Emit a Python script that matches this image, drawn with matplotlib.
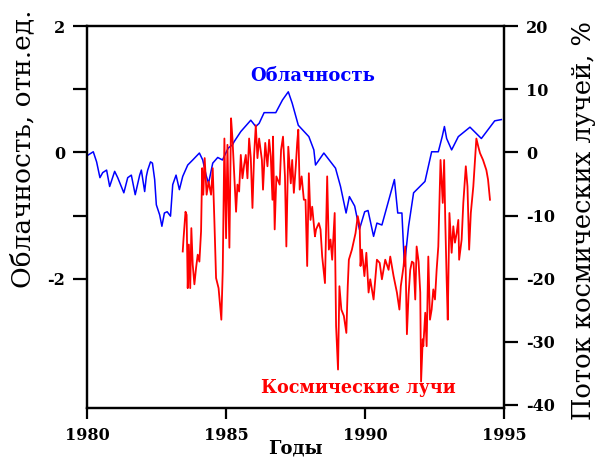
import numpy as np
import matplotlib
matplotlib.use("Agg")
from matplotlib import pyplot as plt

plt.rcParams['axes.unicode_minus'] = False
plt.rcParams['font.family'] = ['DejaVu Serif']

# облачность (годы, отн.ед.)
cloud_years = [1980.04, 1980.22, 1980.34, 1980.46, 1980.56, 1980.70, 1980.81, 1980.99,
               1981.10, 1981.32, 1981.46, 1981.59, 1981.73, 1981.89, 1981.95, 1982.07,
               1982.13, 1982.18, 1982.28, 1982.35, 1982.43, 1982.49, 1982.61, 1982.69,
               1982.78, 1982.88, 1983.00, 1983.08, 1983.20, 1983.32, 1983.44, 1983.62,
               1983.80, 1984.04, 1984.16, 1984.28, 1984.37, 1984.52, 1984.70, 1984.87,
               1985.08, 1985.23, 1985.29, 1985.53, 1985.89, 1986.07, 1986.19, 1986.37,
               1986.79, 1987.03, 1987.24, 1987.38, 1987.60, 1987.98, 1988.16, 1988.22,
               1988.52, 1988.94, 1989.12, 1989.32, 1989.44, 1989.63, 1989.80, 1989.99,
               1990.11, 1990.31, 1990.43, 1990.61, 1991.06, 1991.18, 1991.33, 1991.42,
               1991.57, 1991.75, 1992.16, 1992.40, 1992.64, 1992.78, 1992.86, 1992.94,
               1993.12, 1993.36, 1993.78, 1994.19, 1994.67, 1994.91]
cloud = [-0.04, 0.01, -0.15, -0.40, -0.32, -0.28, -0.54, -0.30,
         -0.40, -0.64, -0.40, -0.36, -0.67, -0.36, -0.28, -0.62,
         -0.38, -0.28, -0.15, -0.17, -0.43, -0.83, -0.99, -1.17,
         -0.96, -0.94, -1.01, -0.51, -0.36, -0.59, -0.38, -0.20,
         -0.12, -0.01, -0.12, -0.36, -0.49, -0.17, -0.08, -0.12,
         0.07, 0.12, 0.17, 0.33, 0.51, 0.41, 0.46, 0.63,
         0.63, 0.83, 0.96, 0.78, 0.43, 0.25, 0.04, -0.20,
         -0.01, -0.25, -0.54, -0.96, -0.70, -0.85, -1.22, -0.94,
         -0.92, -1.33, -1.12, -1.15, -0.43, -0.96, -0.96, -1.80,
         -1.17, -0.64, -0.46, 0.01, 0.01, 0.25, 0.41, 0.22,
         0.04, 0.25, 0.40, 0.22, 0.50, 0.52]

# поток космических лучей (годы, %)
cr_years = [1983.44, 1983.47, 1983.54, 1983.58, 1983.62, 1983.66, 1983.71, 1983.75,
            1983.80, 1983.86, 1983.92, 1983.98, 1984.04, 1984.10, 1984.14, 1984.18,
            1984.23, 1984.30, 1984.37, 1984.46, 1984.52, 1984.58, 1984.64, 1984.73,
            1984.78, 1984.83, 1984.88, 1984.94, 1985.00, 1985.05, 1985.12, 1985.18,
            1985.23, 1985.29, 1985.36, 1985.41, 1985.47, 1985.53, 1985.59, 1985.65,
            1985.71, 1985.77, 1985.83, 1985.89, 1985.95, 1986.01, 1986.07, 1986.13,
            1986.19, 1986.29, 1986.33, 1986.41, 1986.49, 1986.55, 1986.61, 1986.67,
            1986.69, 1986.75, 1986.81, 1986.93, 1986.98, 1987.05, 1987.12, 1987.17,
            1987.24, 1987.33, 1987.38, 1987.44, 1987.51, 1987.56, 1987.60, 1987.65,
            1987.72, 1987.80, 1987.86, 1987.92, 1987.98, 1988.04, 1988.10, 1988.20,
            1988.24, 1988.34, 1988.40, 1988.46, 1988.56, 1988.64, 1988.70, 1988.76,
            1988.82, 1988.91, 1988.96, 1989.03, 1989.08, 1989.15, 1989.24, 1989.33,
            1989.38, 1989.42, 1989.53, 1989.66, 1989.74, 1989.81, 1989.84, 1989.89,
            1989.98, 1990.05, 1990.13, 1990.19, 1990.31, 1990.43, 1990.53, 1990.61,
            1990.73, 1990.85, 1990.91, 1991.03, 1991.15, 1991.24, 1991.29, 1991.39,
            1991.45, 1991.51, 1991.57, 1991.63, 1991.69, 1991.75, 1991.81, 1991.86,
            1991.93, 1991.99, 1992.02, 1992.08, 1992.10, 1992.17, 1992.22, 1992.28,
            1992.34, 1992.40, 1992.46, 1992.52, 1992.58, 1992.64, 1992.72, 1992.80,
            1992.85, 1992.89, 1992.94, 1992.98, 1993.04, 1993.12, 1993.18, 1993.24,
            1993.30, 1993.36, 1993.39, 1993.48, 1993.54, 1993.63, 1993.69, 1993.75,
            1993.81, 1993.90, 1993.96, 1994.01, 1994.08, 1994.14, 1994.25, 1994.37,
            1994.43, 1994.50]
cr_flux = [-15.7, -13.6, -9.4, -9.9, -21.5, -14.6, -21.5, -12.0,
           -17.8, -20.9, -18.3, -16.2, -17.3, -12.5, -2.5, -6.7,
           -0.9, -6.7, -4.6, -6.7, -2.5, -10.9, -19.9, -21.5,
           -24.1, -26.5, -18.8, 2.2, -13.6, 1.2, -15.1, 5.4,
           2.2, -3.0, -9.4, -5.1, -6.2, -0.4, -4.1, -2.0,
           -0.4, -4.1, 2.2, -0.9, -8.8, -0.4, 4.3, -0.9,
           2.2, -1.2, -5.9, 1.5, -2.2, 2.0, -0.7, -7.5,
           2.5, -12.2, -3.8, -5.1, 0.4, 2.5, -3.8, -14.9,
           0.9, -4.9, -1.2, -6.4, -2.2, 1.5, 3.6, -5.9,
           -3.8, -7.5, -7.5, -18.0, -3.3, -10.7, -8.6, -13.3,
           -12.2, -11.2, -12.2, -16.5, -20.7, -3.8, -15.4, -13.8,
           -17.0, -9.6, -27.5, -34.4, -21.2, -24.9, -25.9, -28.6,
           -21.2, -17.0, -15.4, -12.8, -10.1, -11.7, -18.0, -15.4,
           -19.6, -15.9, -22.2, -20.1, -23.3, -17.0, -17.5, -20.1,
           -17.0, -18.6, -16.5, -19.6, -22.2, -24.9, -21.2, -18.0,
           -14.9, -28.8, -22.5, -18.6, -17.3, -17.5, -23.3, -14.9,
           -17.3, -22.2, -36.3, -29.6, -30.7, -25.4, -30.7, -16.5,
           -26.5, -24.9, -21.7, -23.3, -18.6, -14.9, -1.2, -8.0,
           -1.2, -10.7, -20.1, -26.5, -9.6, -15.9, -11.7, -14.3,
           -12.8, -10.7, -17.0, -13.8, -8.0, -2.2, -5.4, -15.4,
           -9.6, -5.4, -1.2, 2.2, 0.9, -0.1, -1.2, -2.8,
           -4.3, -7.5]

x_ticks = [1980, 1985, 1990, 1995]
left_ticks = [2, 1, 0, -1, -2]
left_labels = ['2', '', '0', '', '-2']
right_ticks = [20, 10, 0, -10, -20, -30, -40]

fig = plt.figure(figsize=(5.97, 4.59), dpi=100)
ax = fig.add_axes([0.146, 0.111, 0.698, 0.832])
ax2 = ax.twinx()

ax.plot(cloud_years, cloud, color='#0000ff', lw=1.1)
ax2.plot(cr_years, cr_flux, color='#ff0000', lw=1.3)

ax.set_xlim(1980, 1995)
ax.set_ylim(-4.05, 2.0)
ax2.set_ylim(-40.5, 20.0)

ax.set_xticks(x_ticks)
ax.set_yticks(left_ticks)
ax.set_yticklabels(left_labels)
ax2.set_yticks(right_ticks)

for a in (ax, ax2):
    for s in a.spines.values():
        s.set_linewidth(1.6)
    a.tick_params(direction='out', length=10, width=1.6, labelsize=11.5, pad=6)
    for lbl in a.get_xticklabels() + a.get_yticklabels():
        lbl.set_fontweight('bold')
ax.tick_params(axis='x', length=8, pad=6)

ax.set_xlabel('Годы', fontsize=13, fontweight='bold')
ax.xaxis.set_label_coords(0.5, -0.082)
ax.set_ylabel('Облачность, отн.ед.', fontsize=19)
ax.yaxis.set_label_coords(-0.125, 0.68)
ax2.set_ylabel('Поток космических лучей, %', fontsize=18.5)
ax2.yaxis.set_label_coords(1.16, 0.49)

ax.text(1988.13, 1.21, 'Облачность', color='#0000ff', fontsize=13,
        fontweight='bold', ha='center', va='center')
ax.text(1989.78, -3.74, 'Космические лучи', color='#ff0000', fontsize=12.7,
        fontweight='bold', ha='center', va='center')

fig.savefig('out.png', dpi=100)
